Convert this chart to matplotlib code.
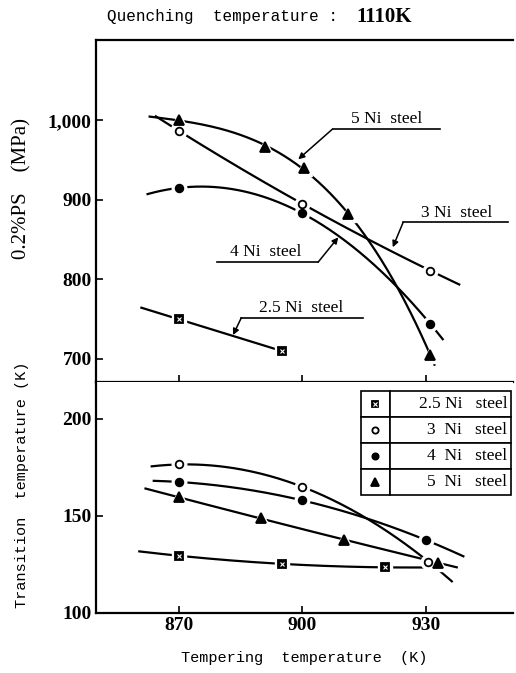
import numpy as np
import matplotlib.pyplot as plt

# 0.2% proof stress (MPa) vs tempering temperature (K)
ps_temp_25 = [870, 895]
ps_val_25 = [750, 710]
ps_temp_3 = [870, 900, 931]
ps_val_3 = [987, 895, 811]
ps_temp_4 = [870, 900, 931]
ps_val_4 = [915, 883, 744]
ps_temp_5 = [870, 891, 900.5, 911, 931]
ps_val_5 = [1000, 967, 940, 882, 705]

# transition temperature (K) vs tempering temperature (K)
tt_temp_25 = [870, 895, 920]
tt_val_25 = [129.5, 125.3, 123.5]
tt_temp_3 = [870, 900, 930.5]
tt_val_3 = [176.5, 165, 126.5]
tt_temp_4 = [870, 900, 930]
tt_val_4 = [167.5, 158, 137.5]
tt_temp_5 = [870, 890, 910, 932.8]
tt_val_5 = [159.5, 149, 137.5, 126]

# range covered by the hand drawn trend curves (K)
ps_span_25 = [861, 895]
ps_span_3 = [864.5, 938]
ps_span_4 = [862.5, 934]
ps_span_5 = [863, 932]
tt_span_25 = [860.5, 930]
tt_span_3 = [863.5, 936.2]
tt_span_4 = [864, 939]
tt_span_5 = [862, 937.4]

legend_labels = ["2.5 Ni   steel", "3  Ni   steel", "4  Ni   steel", "5  Ni   steel"]
x_ticks = [870, 900, 930]
ps_ticks = [700, 800, 900, 1000]
ps_tick_labels = ["700", "800", "900", "1,000"]
tt_ticks = [100, 150, 200]

SERIF = "Liberation Serif"
MONO = "Liberation Mono"


def draw_marker(ax, x, y, kind, size=5.5, halo=True, transform=None, z=3):
    kw = {} if transform is None else {"transform": transform}
    shape = {"2.5": "s", "3": "o", "4": "o", "5": "^"}[kind]
    ms = size + (1 if kind == "5" else 0)
    if halo:
        ax.plot(x, y, ls="none", marker=shape, ms=ms + 5, color="white", zorder=z, **kw)
    face = "white" if kind == "3" else "black"
    ax.plot(x, y, ls="none", marker=shape, ms=ms, mfc=face, mec="black",
            mew=1.3, zorder=z + 1, **kw)
    if kind == "2.5":
        ax.plot(x, y, ls="none", marker="x", ms=ms * 0.55, mec="white",
                mew=0.8, zorder=z + 2, **kw)


def draw_series(ax, temps, vals, span, kind):
    deg = min(len(temps) - 1, 3 if len(temps) > 4 else 2)
    coef = np.polyfit(temps, vals, deg)
    xs = np.linspace(span[0], span[1], 200)
    ax.plot(xs, np.polyval(coef, xs), color="black", lw=1.6, zorder=2)
    draw_marker(ax, temps, vals, kind)


def style_axis(ax):
    for side in ["left", "top", "bottom"]:
        ax.spines[side].set_linewidth(1.6)
    ax.spines["right"].set_visible(False)
    ax.tick_params(direction="in", length=5, width=1.2, pad=3, labelsize=14)
    for lab in ax.get_xticklabels() + ax.get_yticklabels():
        lab.set_fontfamily(SERIF)
        lab.set_fontweight("bold")


fig = plt.figure(figsize=(5.16, 6.73), dpi=100)
ax1 = fig.add_axes([0.186, 0.4324, 0.808, 0.5082])
ax2 = fig.add_axes([0.186, 0.0892, 0.808, 0.3432], sharex=ax1)

# upper panel
draw_series(ax1, ps_temp_25, ps_val_25, ps_span_25, "2.5")
draw_series(ax1, ps_temp_3, ps_val_3, ps_span_3, "3")
draw_series(ax1, ps_temp_4, ps_val_4, ps_span_4, "4")
draw_series(ax1, ps_temp_5, ps_val_5, ps_span_5, "5")
ax1.set_xlim(850, 951)
ax1.set_ylim(671, 1101)
ax1.set_yticks(ps_ticks)
ax1.set_yticklabels(ps_tick_labels)
ax1.set_xticks(x_ticks)
ax1.tick_params(labelbottom=False)
style_axis(ax1)
ax1.set_ylabel("0.2%PS    (MPa)", fontfamily=SERIF, fontsize=15)
ax1.yaxis.set_label_coords(-0.155, 0.565)

# leader labels: (text pos, underline x range, underline y, arrow tip)
notes = [
    ("5 Ni  steel", (920.4, 991), (907.3, 933.4), 989, (899, 951)),
    ("3 Ni  steel", (937.4, 874), (924.4, 949.9), 871.6, (921.9, 840.4)),
    ("4 Ni  steel", (891.2, 824), (879.2, 903.8), 821.6, (908.7, 852.9)),
    ("2.5 Ni  steel", (899.8, 754), (885.2, 914.8), 751.6, (883.2, 730)),
]
for text, (tx, ty), (ux0, ux1), uy, tip in notes:
    ax1.text(tx, ty, text, ha="center", va="bottom", fontfamily=SERIF, fontsize=12.5)
    ax1.plot([ux0, ux1], [uy, uy], color="black", lw=1.2)
    elbow = (ux0, uy) if tip[0] < (ux0 + ux1) / 2 else (ux1, uy)
    ax1.annotate("", xy=tip, xytext=elbow,
                 arrowprops=dict(arrowstyle="-|>", color="black", lw=1.1,
                                 mutation_scale=9, shrinkA=0, shrinkB=0))

# lower panel
draw_series(ax2, tt_temp_25, tt_val_25, tt_span_25, "2.5")
draw_series(ax2, tt_temp_3, tt_val_3, tt_span_3, "3")
draw_series(ax2, tt_temp_4, tt_val_4, tt_span_4, "4")
draw_series(ax2, tt_temp_5, tt_val_5, tt_span_5, "5")
ax2.set_ylim(100, 219)
ax2.set_yticks(tt_ticks)
ax2.set_xticks(x_ticks)
style_axis(ax2)
ax2.spines["top"].set_visible(False)
ax2.set_ylabel("Transition  temperature (K)", fontfamily=MONO, fontsize=11)
ax2.yaxis.set_label_coords(-0.16, 0.554)
ax2.set_xlabel("Tempering  temperature  (K)", fontfamily=MONO, fontsize=11,
               labelpad=12)

# legend drawn as a small table
bbox = [0.635, 0.511, 0.36, 0.45]
tbl = ax2.table(cellText=[["", s] for s in legend_labels], colWidths=[0.193, 0.807],
                cellLoc="right", bbox=bbox, zorder=6)
tbl.auto_set_font_size(False)
tbl.set_fontsize(12.5)
for cell in tbl.get_celld().values():
    cell.set_linewidth(1.2)
    cell.PAD = 0.03
    cell.get_text().set_fontfamily(SERIF)
row_h = bbox[3] / len(legend_labels)
for i, kind in enumerate(["2.5", "3", "4", "5"]):
    draw_marker(ax2, [bbox[0] + bbox[2] * 0.193 / 2],
                [bbox[1] + bbox[3] - row_h * (i + 0.5)], kind, size=4.5,
                halo=False, transform=ax2.transAxes, z=8)

fig.text(0.655, 0.975, "Quenching  temperature :", ha="right", va="center",
         fontfamily=MONO, fontsize=11.5)
fig.text(0.69, 0.975, "1110K", ha="left", va="center",
         fontfamily=SERIF, fontsize=15, fontweight="bold")

fig.savefig("out.png", dpi=100)
